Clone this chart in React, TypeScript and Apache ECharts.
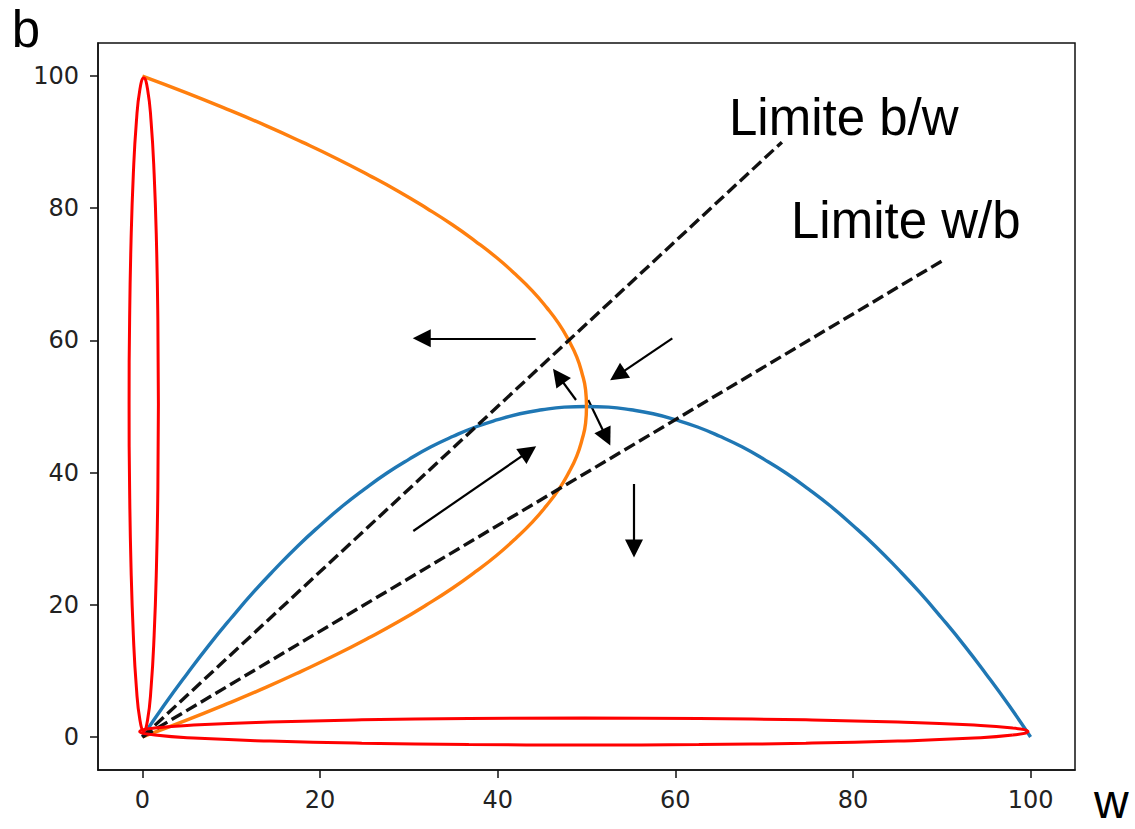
import React, { useEffect, useRef } from "react";
import * as echarts from "echarts";

// Axis ticks
const tickValues = [0, 20, 40, 60, 80, 100];

// Blue curve: b as a function of w
const blueCurve: number[][] = [
  [0, 0], [2.5, 4.9], [5, 9.5], [7.5, 13.9], [10, 18], [12.5, 21.9], [15, 25.5], [17.5, 28.9],
  [20, 32], [22.5, 34.9], [25, 37.5], [27.5, 39.9], [30, 42], [32.5, 43.9], [35, 45.5],
  [37.5, 46.9], [40, 48], [42.5, 48.9], [45, 49.5], [47.5, 49.9], [50, 50], [52.5, 49.9],
  [55, 49.5], [57.5, 48.9], [60, 48], [62.5, 46.9], [65, 45.5], [67.5, 43.9], [70, 42],
  [72.5, 39.9], [75, 37.5], [77.5, 34.9], [80, 32], [82.5, 28.9], [85, 25.5], [87.5, 21.9],
  [90, 18], [92.5, 13.9], [95, 9.5], [97.5, 4.9], [100, 0],
];

// Orange curve: w as a function of b
const orangeCurve: number[][] = [
  [0, 0], [4.9, 2.5], [9.5, 5], [13.9, 7.5], [18, 10], [21.9, 12.5], [25.5, 15], [28.9, 17.5],
  [32, 20], [34.9, 22.5], [37.5, 25], [39.9, 27.5], [42, 30], [43.9, 32.5], [45.5, 35],
  [46.9, 37.5], [48, 40], [48.9, 42.5], [49.5, 45], [49.9, 47.5], [50, 50], [49.9, 52.5],
  [49.5, 55], [48.9, 57.5], [48, 60], [46.9, 62.5], [45.5, 65], [43.9, 67.5], [42, 70],
  [39.9, 72.5], [37.5, 75], [34.9, 77.5], [32, 80], [28.9, 82.5], [25.5, 85], [21.9, 87.5],
  [18, 90], [13.9, 92.5], [9.5, 95], [4.9, 97.5], [0, 100],
];

// Dashed limit lines
const limitBW: number[][] = [[0, 0], [72, 90]];
const limitWB: number[][] = [[0, 0], [90, 72]];

// Red hand-drawn ellipses (outline points)
const verticalEllipse: number[][] = [
  [1.8, 50.3], [1.74, 37.51], [1.58, 25.6], [1.32, 15.37], [0.98, 7.52], [0.58, 2.58],
  [0.15, 0.9], [-0.28, 2.58], [-0.68, 7.52], [-1.02, 15.37], [-1.28, 25.6], [-1.44, 37.51],
  [-1.5, 50.3], [-1.44, 63.09], [-1.28, 75.0], [-1.02, 85.23], [-0.68, 93.08], [-0.28, 98.02],
  [0.15, 99.7], [0.58, 98.02], [0.98, 93.08], [1.32, 85.23], [1.58, 75.0], [1.74, 63.09],
  [1.8, 50.3],
];
const horizontalEllipse: number[][] = [
  [49.7, 2.86], [36.75, 2.79], [24.7, 2.59], [14.35, 2.26], [6.4, 1.84], [1.4, 1.35],
  [-0.3, 0.82], [1.4, 0.29], [6.4, -0.2], [14.35, -0.62], [24.7, -0.95], [36.75, -1.15],
  [49.7, -1.22], [62.65, -1.15], [74.7, -0.95], [85.05, -0.62], [93.0, -0.2], [98.0, 0.29],
  [99.7, 0.82], [98.0, 1.35], [93.0, 1.84], [85.05, 2.26], [74.7, 2.59], [62.65, 2.79],
  [49.7, 2.86],
];

// Arrows: [start, end] in data coordinates
const arrows: number[][][] = [
  [[44.28, 60.32], [31.45, 60.32]],
  [[59.66, 60.32], [53.5, 54.72]],
  [[48.82, 50.98], [46.83, 54.62]],
  [[50.2, 50.98], [52.24, 45.31]],
  [[30.5, 31.16], [43.5, 43.21]],
  [[55.35, 38.27], [55.35, 28.53]],
];

const texts = ["Limite b/w", "Limite w/b", "b", "w"];

export default function App() {
  const ref = useRef<HTMLDivElement>(null);

  useEffect(() => {
    if (!ref.current) return;
    const chart = echarts.init(ref.current, undefined, { renderer: "svg" });
    const bigFont = {
      fontFamily: "'Liberation Sans', Arial, sans-serif",
      fontSize: 51,
      fill: "#000",
      verticalAlign: "middle" as const,
      align: "left" as const,
    };
    const axisCommon = {
      type: "value" as const,
      min: -5,
      max: 105,
      splitLine: { show: false },
      axisLine: { show: true, onZero: false, lineStyle: { color: "#111", width: 1.5 } },
      axisTick: {
        show: true,
        length: 8,
        customValues: tickValues,
        lineStyle: { color: "#111", width: 1.5 },
      },
      axisLabel: {
        customValues: tickValues,
        fontFamily: "'DejaVu Sans', sans-serif",
        fontSize: 24,
        color: "#222",
      },
    };
    chart.setOption({
      animation: false,
      grid: {
        left: 98,
        top: 43,
        right: 60,
        bottom: 59,
        show: true,
        borderColor: "#111",
        borderWidth: 1.5,
        backgroundColor: "transparent",
      },
      xAxis: { ...axisCommon, axisLabel: { ...axisCommon.axisLabel, margin: 18 } },
      yAxis: { ...axisCommon, axisLabel: { ...axisCommon.axisLabel, margin: 19 } },
      series: [
        {
          type: "line",
          data: blueCurve,
          smooth: true,
          showSymbol: false,
          lineStyle: { color: "#1f77b4", width: 3.4 },
        },
        {
          type: "line",
          data: orangeCurve,
          smooth: true,
          showSymbol: false,
          lineStyle: { color: "#ff7f0e", width: 3.4 },
        },
        {
          type: "line",
          data: limitBW,
          showSymbol: false,
          lineStyle: { color: "#111", width: 3.4, type: [12, 5] },
        },
        {
          type: "line",
          data: limitWB,
          showSymbol: false,
          lineStyle: { color: "#111", width: 3.4, type: [12, 5] },
        },
        {
          type: "line",
          data: verticalEllipse,
          smooth: true,
          showSymbol: false,
          lineStyle: { color: "#ff0000", width: 3 },
        },
        {
          type: "line",
          data: horizontalEllipse,
          smooth: true,
          showSymbol: false,
          lineStyle: { color: "#ff0000", width: 3 },
        },
        {
          type: "lines",
          coordinateSystem: "cartesian2d",
          symbol: ["none", "triangle"],
          symbolSize: [15, 18],
          lineStyle: { color: "#000", width: 2.2, opacity: 1, curveness: 0 },
          itemStyle: { color: "#000" },
          data: arrows.map((a) => ({ coords: a })),
        },
      ],
      graphic: [
        { type: "text", x: 729, y: 117.3, style: { ...bigFont, text: texts[0] } },
        { type: "text", x: 791, y: 220.6, style: { ...bigFont, text: texts[1] } },
        { type: "text", x: 11.7, y: 29, style: { ...bigFont, text: texts[2] } },
        {
          type: "text",
          x: 1094,
          y: 801,
          style: { ...bigFont, fontSize: 48, text: texts[3] },
        },
      ],
    });
    return () => chart.dispose();
  }, []);

  return (
    <div
      ref={ref}
      style={{ position: "absolute", left: 0, top: 0, width: 1135, height: 829 }}
    />
  );
}
